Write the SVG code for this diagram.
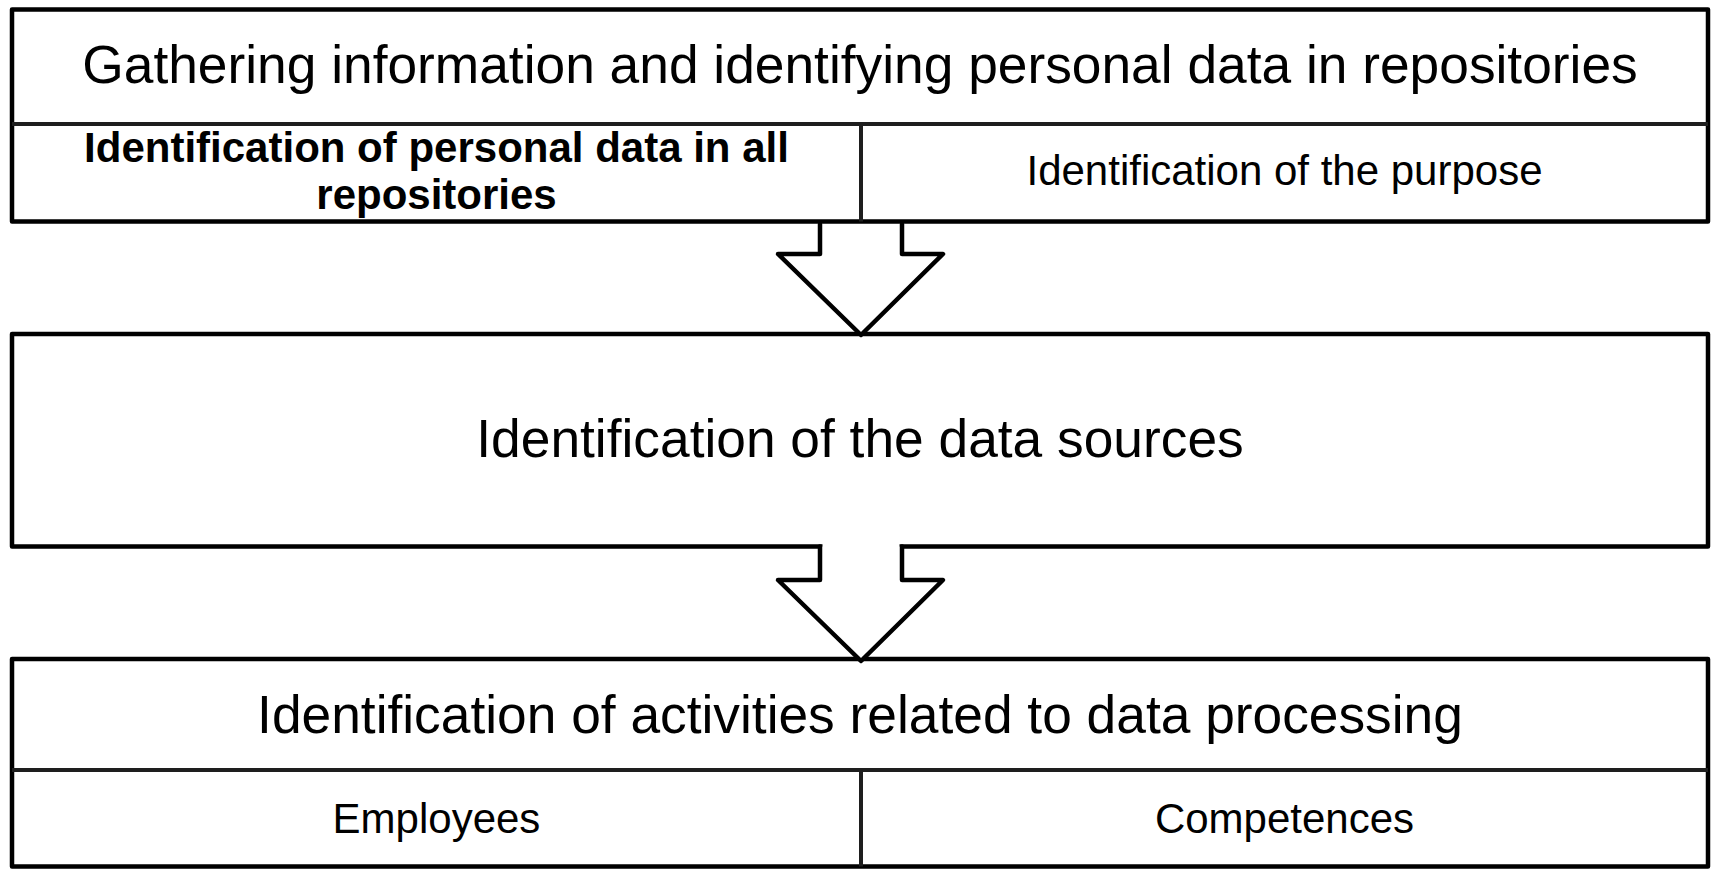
<svg xmlns="http://www.w3.org/2000/svg" width="1713" height="869" viewBox="0 0 1713 869">
<style>
.box{fill:#fff;stroke:#000;stroke-width:4.5;stroke-linejoin:round}
.div{stroke:#1e1e1e;stroke-width:4;fill:none}
.arrow{fill:#fff;stroke:#000;stroke-width:4.5;stroke-linejoin:round;stroke-linecap:round}
text{font-family:"Liberation Sans",Arial,sans-serif;fill:#000;text-anchor:middle}
.big{font-size:53.3px}
.small{font-size:42px}
.bold{font-size:42px;font-weight:bold}
</style>
<rect width="1713" height="869" fill="#fff"/>
<g id="node-gathering">
<rect class="box" x="12" y="9.5" width="1696" height="212"/>
<line class="div" x1="12" y1="124" x2="1708" y2="124"/>
<line class="div" x1="861" y1="124" x2="861" y2="221.5"/>
<text class="big" x="860" y="83">Gathering information and identifying personal data in repositories</text>
<text class="bold"><tspan x="436.5" y="161.5">Identification of personal data in all</tspan><tspan x="436.5" y="208.5">repositories</tspan></text>
<text class="small" x="1284.5" y="185">Identification of the purpose</text>
</g>
<g id="node-sources">
<rect class="box" x="12" y="334" width="1696" height="212.5"/>
<text class="big" x="860" y="457">Identification of the data sources</text>
</g>
<g id="node-activities">
<rect class="box" x="12" y="659" width="1696" height="207.5"/>
<line class="div" x1="12" y1="770" x2="1708" y2="770"/>
<line class="div" x1="861" y1="770" x2="861" y2="866.5"/>
<text class="big" x="860" y="733">Identification of activities related to data processing</text>
<text class="small" x="436.5" y="833">Employees</text>
<text class="small" x="1284.5" y="833">Competences</text>
</g>
<g id="connectors">
<path class="arrow" d="M820,224 V254 H778 L861,335 L943,254 H902 V224"/>
<rect x="822.5" y="543" width="77" height="7" fill="#fff"/>
<path class="arrow" d="M820,546.5 V580 H778 L861,661 L943,580 H902 V546.5"/>
</g>
</svg>
